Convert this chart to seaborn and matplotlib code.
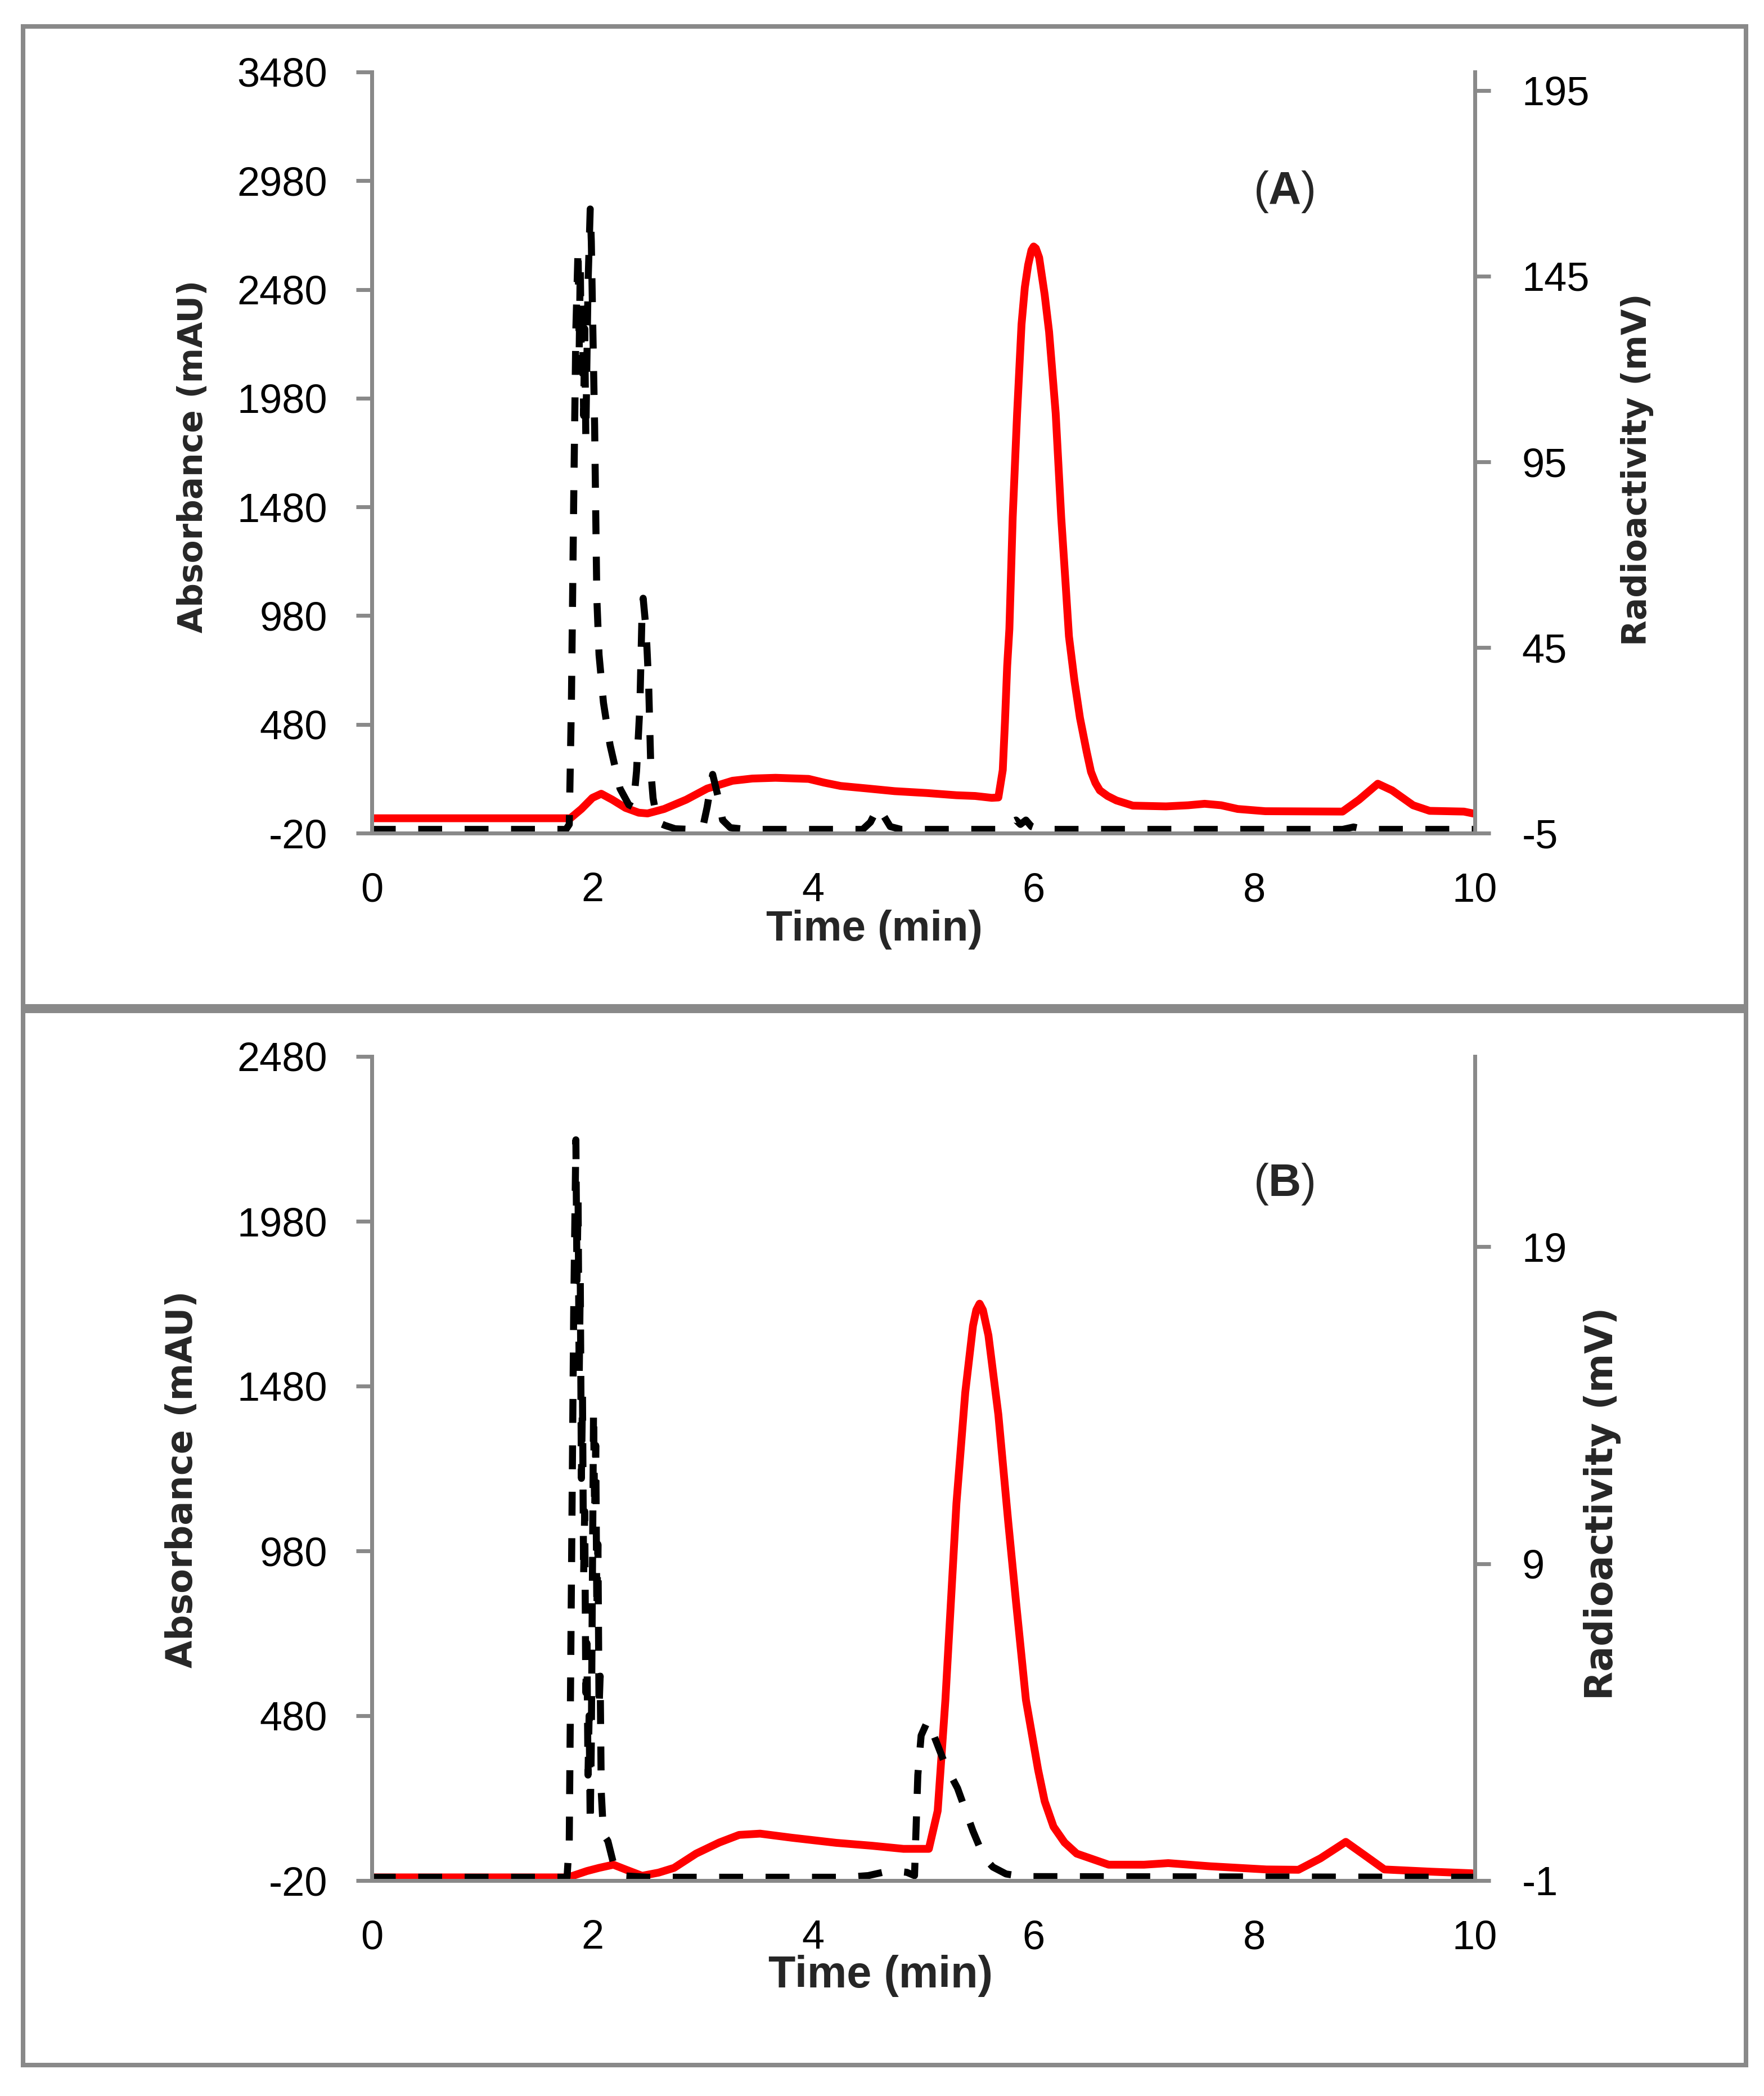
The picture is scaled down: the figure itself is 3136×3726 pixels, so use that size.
import matplotlib
matplotlib.use("Agg")
import matplotlib.pyplot as plt
from matplotlib.patches import Rectangle
import seaborn as sns

# ---- data ----
# panel A: UV absorbance (mAU), black dashed
a_uv_t = [0.0, 1.76, 1.79, 1.81, 1.83, 1.85, 1.87, 1.88, 1.89, 1.90, 1.91, 1.92, 1.93,
          1.94, 1.96, 1.98, 1.99, 2.00, 2.02, 2.03, 2.04, 2.06, 2.10, 2.16, 2.25, 2.33,
          2.37, 2.40, 2.43, 2.45, 2.46, 2.48, 2.49, 2.51, 2.53, 2.55, 2.59, 2.66, 2.75,
          2.90, 3.00, 3.04, 3.09, 3.14, 3.18, 3.25, 3.40, 4.45, 4.52, 4.59, 4.64, 4.70,
          4.80, 5.70, 5.78, 5.84, 5.88, 5.93, 5.98, 6.05, 8.80, 8.90, 9.00, 10.0]
a_uv_v = [-3, -3, 20, 600, 1500, 2300, 2670, 2200, 2600, 2100, 2450, 1900, 2300,
          1800, 2500, 2850, 2700, 2400, 1850, 1450, 1060, 800, 580, 385, 185, 110,
          100, 265, 560, 1000, 1060, 950, 880, 660, 265, 140, 30, 15, 0,
          -3, 5, 100, 250, 145, 40, 5, -3, -3, 30, 100, 60, 10,
          -3, -3, 25, 40, 20, 40, 10, -3, -3, 8, -3, -3]

# panel A: radioactivity (mV), red solid
a_rad_t = [0.0, 1.80, 1.90, 2.00, 2.08, 2.18, 2.30, 2.42, 2.50, 2.65, 2.85, 3.04, 3.27,
           3.45, 3.66, 3.96, 4.10, 4.25, 4.50, 4.74, 5.03, 5.30, 5.47, 5.62, 5.68, 5.72,
           5.74, 5.76, 5.78, 5.81, 5.85, 5.89, 5.92, 5.95, 5.98, 6.00, 6.02, 6.05, 6.10,
           6.14, 6.20, 6.25, 6.29, 6.32, 6.37, 6.42, 6.48, 6.52, 6.56, 6.60, 6.67, 6.75,
           6.90, 7.20, 7.40, 7.55, 7.70, 7.85, 8.10, 8.80, 8.95, 9.12, 9.25, 9.44, 9.59,
           9.90, 10.0]
a_rad_v = [-1.0, -1.0, 1.5, 4.5, 5.6, 4.0, 1.8, 0.5, 0.3, 1.5, 4.0, 7.0, 9.1,
           9.7, 9.9, 9.6, 8.6, 7.7, 7.0, 6.3, 5.8, 5.2, 5.0, 4.5, 4.6, 12,
           25, 40, 50, 80, 108, 132, 142, 148, 152, 153, 152.5, 150, 140,
           130, 108, 80, 62, 48, 36, 26, 17, 11.5, 8.5, 6.5, 5.0, 3.8,
           2.4, 2.2, 2.5, 2.9, 2.5, 1.5, 0.9, 0.8, 4.0, 8.3, 6.5, 2.5, 1.0,
           0.8, 0.2]

# panel B: UV absorbance (mAU), black dashed
b_uv_t = [0.0, 1.77, 1.79, 1.81, 1.83, 1.85, 1.86, 1.87, 1.88, 1.89, 1.90, 1.91, 1.92,
          1.93, 1.94, 1.95, 1.96, 1.97, 1.98, 1.99, 2.00, 2.01, 2.02, 2.03, 2.04, 2.05,
          2.06, 2.07, 2.08, 2.10, 2.14, 2.19, 2.25, 2.50, 4.30, 4.50, 4.70, 4.85, 4.92,
          4.95, 4.98, 5.04, 5.10, 5.20, 5.31, 5.45, 5.55, 5.63, 5.75, 5.90, 10.0]
b_uv_v = [-10, -10, 100, 900, 1700, 2227, 1800, 2050, 1500, 1800, 1200, 1450, 900,
          1100, 550, 700, 300, 480, 150, 400, 900, 1405, 1100, 1300, 800, 1000,
          500, 600, 250, 120, 100, 33, -5, -10, -10, -5, 10, 5, -5,
          300, 420, 465, 416, 330, 260, 130, 50, 21, 0, -8, -10]

# panel B: radioactivity (mV), red solid
b_rad_t = [0.0, 1.78, 1.95, 2.06, 2.19, 2.30, 2.45, 2.60, 2.74, 2.94, 3.15, 3.33, 3.52,
           3.81, 4.21, 4.53, 4.82, 5.05, 5.13, 5.20, 5.25, 5.30, 5.38, 5.45, 5.48, 5.51,
           5.54, 5.59, 5.68, 5.77, 5.84, 5.93, 6.04, 6.10, 6.18, 6.28, 6.39, 6.68, 7.00,
           7.22, 7.60, 8.11, 8.40, 8.60, 8.83, 9.00, 9.18, 9.60, 9.97, 10.0]
b_rad_v = [-0.9, -0.9, -0.7, -0.6, -0.5, -0.65, -0.85, -0.75, -0.6, -0.15, 0.2, 0.44, 0.48,
           0.35, 0.19, 0.1, 0.0, 0.0, 1.2, 4.7, 7.8, 10.9, 14.4, 16.5, 17.0, 17.2,
           17.0, 16.2, 13.7, 10.3, 7.8, 4.7, 2.5, 1.5, 0.7, 0.2, -0.15, -0.5, -0.5,
           -0.45, -0.55, -0.65, -0.66, -0.3, 0.22, -0.2, -0.65, -0.72, -0.77, -0.8]

x_ticks = [0, 2, 4, 6, 8, 10]
a_left_ticks = list(range(-20, 3481, 500))
a_right_ticks = [-5, 45, 95, 145, 195]
b_left_ticks = list(range(-20, 2481, 500))
b_right_ticks = [-1, 9, 19]

sns.set_style("white")
plt.rcParams["font.family"] = ["Liberation Sans", "DejaVu Sans"]
plt.rcParams["axes.unicode_minus"] = False
plt.rcParams["mathtext.fontset"] = "custom"
plt.rcParams["mathtext.rm"] = "Liberation Sans"
plt.rcParams["mathtext.bf"] = "Liberation Sans:bold"

W, H = 3136, 3726
fig = plt.figure(figsize=(W / 100, H / 100), dpi=100)
GRAY = "#898989"


def fx(px):
    return px / W


def fy(py):
    return 1 - py / H


def style_axis(ax):
    for side in ["left", "right", "bottom"]:
        ax.spines[side].set_color(GRAY)
        ax.spines[side].set_linewidth(5)
    ax.spines["top"].set_visible(False)
    ax.tick_params(axis="both", direction="out", length=20, width=5, color=GRAY,
                   labelsize=52, labelcolor="black")


def panel(box, left, right, bottom, top, uv_t, uv_v, rad_t, rad_v,
          ylim_l, ylim_r, lticks, rticks, tag, tag_y, ylab_l, ylab_r, time_y, time_fs):
    ax = fig.add_axes([fx(left), fy(bottom), fx(right - left), fy(top) - fy(bottom)])
    ax2 = ax.twinx()

    sns.lineplot(x=rad_t, y=rad_v, ax=ax2, color="#FF0000", linewidth=10,
                 estimator=None, solid_capstyle="butt", solid_joinstyle="round")
    sns.lineplot(x=uv_t, y=uv_v, ax=ax, color="black", linewidth=9,
                 linestyle=(0, (3.4, 3.2)), estimator=None, dash_capstyle="butt")

    # black trace sits on top of the red one
    ax.set_zorder(ax2.get_zorder() + 1)
    ax.patch.set_visible(False)

    ax.set_xlim(0, 10)
    ax.set_ylim(*ylim_l)
    ax2.set_ylim(*ylim_r)
    ax.set_xticks(x_ticks)
    ax.set_yticks(lticks)
    ax2.set_yticks(rticks)
    ax.set_xlabel("")
    ax.set_ylabel("")
    ax2.set_ylabel("")
    for a in (ax, ax2):
        style_axis(a)
        a.grid(False)
    ax.tick_params(axis="y", pad=37)
    ax.tick_params(axis="x", pad=30)
    ax2.tick_params(axis="y", pad=40)

    fig.text(fx(ylab_l[0]), fy(ylab_l[1]), "Absorbance (mAU)", rotation=90,
             ha="center", va="center", fontsize=ylab_l[2], fontweight="bold",
             family="DejaVu Sans")
    fig.text(fx(ylab_r[0]), fy(ylab_r[1]), "Radioactivity (mV)", rotation=90,
             ha="center", va="center", fontsize=ylab_r[2], fontweight="bold",
             family="DejaVu Sans")
    fig.text(fx(time_y[0]), fy(time_y[1]), "Time (min)", ha="center", va="center",
             fontsize=time_fs, fontweight="bold")
    fig.text(fx(2282), fy(tag_y), "($\\mathbf{%s}$)" % tag, ha="center", va="center",
             fontsize=58)

    fig.patches.append(Rectangle((fx(box[0]), fy(box[3])), fx(box[2] - box[0]),
                                 fy(box[1]) - fy(box[3]), transform=fig.transFigure,
                                 fill=False, edgecolor=GRAY, linewidth=5.8))
    return ax, ax2


panel((41, 47, 3104, 1789), 661, 2622, 1481, 128, a_uv_t, a_uv_v, a_rad_t, a_rad_v,
      (-20, 3480), (-5, 200), a_left_ticks, a_right_ticks, "A", 341,
      (343, 811, 43), (2910, 835, 43), (1554, 1652), 55)

panel((41, 1797, 3104, 3671), 661, 2622, 3343, 1878, b_uv_t, b_uv_v, b_rad_t, b_rad_v,
      (-20, 2480), (-1, 25), b_left_ticks, b_right_ticks, "B", 2105,
      (324, 2630, 46), (2848, 2673, 48), (1566, 3512), 57)

fig.savefig("out.png", dpi=100, facecolor="white")
